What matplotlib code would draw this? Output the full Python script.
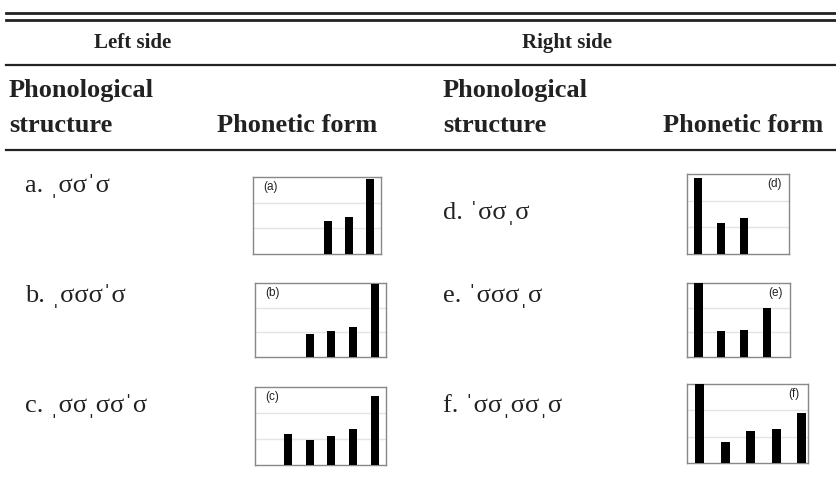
import matplotlib
matplotlib.use("Agg")
from matplotlib import pyplot as plt

W, H = 837, 479

# bar heights (grid lines at 1 and 2, box top at 3)
bars_a = [1.27, 1.44, 2.92]
bars_b = [0.95, 1.04, 1.20, 2.95]
bars_c = [1.19, 0.96, 1.10, 1.38, 2.65]
bars_d = [2.85, 1.16, 1.35]
bars_e = [3.05, 1.06, 1.10, 2.00]
bars_f = [3.05, 0.80, 1.20, 1.30, 1.90]

left_labels = ["a. \u02cc\u03c3\u03c3\u02c8\u03c3",
               "b. \u02cc\u03c3\u03c3\u03c3\u02c8\u03c3",
               "c. \u02cc\u03c3\u03c3\u02cc\u03c3\u03c3\u02c8\u03c3"]
right_labels = ["d. \u02c8\u03c3\u03c3\u02cc\u03c3",
                "e. \u02c8\u03c3\u03c3\u03c3\u02cc\u03c3",
                "f. \u02c8\u03c3\u03c3\u02cc\u03c3\u03c3\u02cc\u03c3"]
panel_tags = ["(a)", "(b)", "(c)", "(d)", "(e)", "(f)"]

serif = ["Liberation Serif", "DejaVu Serif"]
sans = ["Liberation Sans", "DejaVu Sans"]
INK = "#222222"

fig = plt.figure(figsize=(W / 100, H / 100), dpi=100)


def fx(x):
    return x / W


def fy(y):
    return 1 - y / H


def hline(y, lw):
    fig.add_artist(plt.Line2D([fx(6), fx(837)], [fy(y), fy(y)], color=INK, lw=lw))


def inset(x0, y0, x1, y1, values, start, xlim, tag, tag_right):
    ax = fig.add_axes([fx(x0), fy(y1), fx(x1) - fx(x0), fy(y0) - fy(y1)])
    xs = list(range(start, start + len(values)))
    ax.bar(xs, values, width=0.36, color="black", zorder=3)
    ax.set_xlim(*xlim)
    ax.set_ylim(0, 3)
    ax.set_yticks([1, 2])
    ax.grid(axis="y", color="#e4e4e4", lw=1.0, zorder=0)
    ax.tick_params(left=False, bottom=False, labelleft=False, labelbottom=False)
    for s in ax.spines.values():
        s.set_color("#888888")
        s.set_linewidth(1.0)
    if tag_right:
        ax.text(0.93, 0.87, tag, transform=ax.transAxes, ha="right", va="center",
                fontsize=8.5, family=sans, color=INK, zorder=4)
    else:
        ax.text(0.08, 0.87, tag, transform=ax.transAxes, ha="left", va="center",
                fontsize=8.5, family=sans, color=INK, zorder=4)
    return ax


# rules
hline(13, 2.0)
hline(19.5, 2.0)
hline(65, 1.6)
hline(150, 1.6)

# headers
fig.text(fx(133), fy(43), "Left side", ha="center", va="center",
         fontsize=15, fontweight="bold", family=serif, color=INK)
fig.text(fx(567), fy(43), "Right side", ha="center", va="center",
         fontsize=15, fontweight="bold", family=serif, color=INK)
for x0, x1 in [(9, 217), (443, 663)]:
    fig.text(fx(x0), fy(91), "Phonological", ha="left", va="center",
             fontsize=19, fontweight="bold", family=serif, color=INK)
    fig.text(fx(x0), fy(125), "structure", ha="left", va="center",
             fontsize=19, fontweight="bold", family=serif, color=INK)
    fig.text(fx(x1), fy(125), "Phonetic form", ha="left", va="center",
             fontsize=19, fontweight="bold", family=serif, color=INK)

# row labels
for lab, y in zip(left_labels, [186, 296, 406]):
    fig.text(fx(25), fy(y), lab, ha="left", va="center", fontsize=19,
             family=serif, color=INK)
for lab, y in zip(right_labels, [213, 296, 406]):
    fig.text(fx(443), fy(y), lab, ha="left", va="center", fontsize=19,
             family=serif, color=INK)

# insets
inset(253, 177, 381, 254, bars_a, 3, (-0.5, 5.5), panel_tags[0], False)
inset(255, 283, 386, 357, bars_b, 2, (-0.5, 5.5), panel_tags[1], False)
inset(255, 387, 386, 465, bars_c, 1, (-0.5, 5.5), panel_tags[2], False)
inset(687, 174, 789, 254, bars_d, 0, (-0.5, 4.0), panel_tags[3], True)
inset(687, 283, 790, 357, bars_e, 0, (-0.5, 4.0), panel_tags[4], True)
inset(687, 384, 808, 463, bars_f, 0, (-0.5, 4.25), panel_tags[5], True)

fig.savefig("out.png", dpi=100)
